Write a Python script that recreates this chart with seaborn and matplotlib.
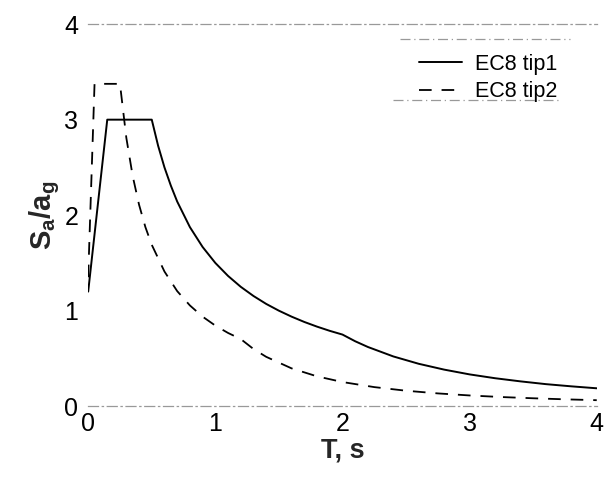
import matplotlib
matplotlib.use("Agg")
import matplotlib.pyplot as plt
import seaborn as sns
import pandas as pd

# EC8 type 1 spectrum
t1 = [0.0, 0.15, 0.5, 0.55, 0.6, 0.65, 0.7, 0.8, 0.9, 1.0, 1.1, 1.2, 1.3, 1.4, 1.5,
      1.6, 1.7, 1.8, 1.9, 2.0, 2.1, 2.2, 2.4, 2.6, 2.8, 3.0, 3.2, 3.4, 3.6, 3.8, 4.0]
s1 = [1.2, 3.0, 3.0, 2.727, 2.5, 2.31, 2.143, 1.875, 1.667, 1.5, 1.364, 1.25, 1.154, 1.071, 1.0,
      0.9375, 0.882, 0.833, 0.789, 0.75, 0.680, 0.620, 0.521, 0.444, 0.383, 0.333, 0.293, 0.260, 0.231, 0.208, 0.1875]

# EC8 type 2 spectrum
t2 = [0.0, 0.05, 0.25, 0.3, 0.35, 0.4, 0.45, 0.5, 0.6, 0.7, 0.8, 0.9, 1.0, 1.1, 1.2,
      1.3, 1.4, 1.6, 1.8, 2.0, 2.25, 2.5, 2.75, 3.0, 3.25, 3.5, 3.75, 4.0]
s2 = [1.35, 3.375, 3.375, 2.81, 2.41, 2.11, 1.875, 1.69, 1.41, 1.205, 1.055, 0.9375, 0.844, 0.767, 0.703,
      0.599, 0.517, 0.396, 0.3125, 0.253, 0.2, 0.162, 0.134, 0.1125, 0.096, 0.083, 0.072, 0.063]

labels = ["EC8 tip1", "EC8 tip2"]
xticks = [0, 1, 2, 3, 4]
yticks = [0, 1, 2, 3, 4]

sns.set_theme(style="white")
plt.rcParams['font.family'] = ['Liberation Sans', 'DejaVu Sans']
plt.rcParams['mathtext.fontset'] = 'custom'
plt.rcParams['mathtext.rm'] = 'Liberation Sans'
plt.rcParams['mathtext.bf'] = 'Liberation Sans:bold'
plt.rcParams['mathtext.it'] = 'Liberation Sans:italic'

fig = plt.figure(figsize=(6.04, 4.83), dpi=100)
ax = fig.add_axes([0.146, 0.159, 0.842, 0.791])

df1 = pd.DataFrame({"T": t1, "S": s1})
df2 = pd.DataFrame({"T": t2, "S": s2})
sns.lineplot(data=df1, x="T", y="S", ax=ax, color="black", lw=1.4, label=labels[0],
             estimator=None, sort=False)
sns.lineplot(data=df2, x="T", y="S", ax=ax, color="black", lw=1.3, label=labels[1],
             estimator=None, sort=False)
ax.lines[1].set_dashes([7, 5.5])

ax.set_xlim(0, 4)
ax.set_ylim(0, 4)
ax.set_xticks(xticks)
ax.set_yticks(yticks)
ax.tick_params(axis='both', length=0, labelsize=18, colors='black')
ax.tick_params(axis='y', pad=7)
ax.tick_params(axis='x', pad=4)

for side in ['left', 'right']:
    ax.spines[side].set_visible(False)
for side in ['top', 'bottom']:
    ax.spines[side].set_color('#999999')
    ax.spines[side].set_linewidth(0.9)
    ax.spines[side].set_linestyle((0, (8, 3, 1, 3)))

ax.set_xlabel("T, s", fontsize=19.5, fontweight='bold', labelpad=1)
ax.set_ylabel(r"$\mathbf{S_a/a_g}$", fontsize=21, labelpad=2)

leg = ax.legend(loc='upper right', bbox_to_anchor=(0.923, 0.922), frameon=False,
                fontsize=15.5, handlelength=2.0, handletextpad=0.6, labelspacing=0.3,
                borderaxespad=0, borderpad=0)
for t in leg.get_texts():
    t.set_color('black')

# legend box top/bottom rules
ax.plot([0.613, 0.947], [0.961, 0.961], transform=ax.transAxes, color='#999999',
        lw=0.9, ls=(0, (8, 3, 1, 3)), clip_on=False)
ax.plot([0.600, 0.930], [0.802, 0.802], transform=ax.transAxes, color='#999999',
        lw=0.9, ls=(0, (8, 3, 1, 3)), clip_on=False)

fig.savefig("out.png", dpi=100)
